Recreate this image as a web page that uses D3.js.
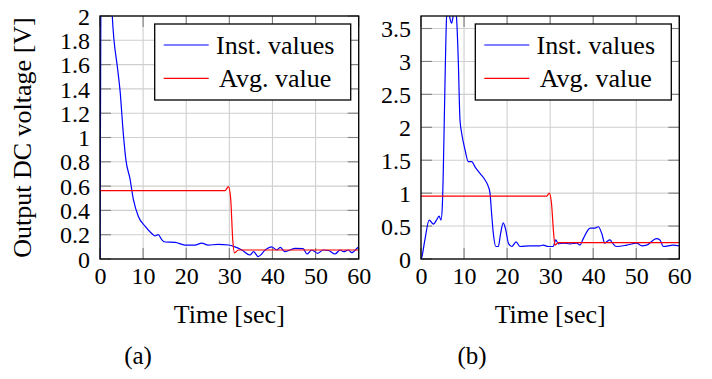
<!DOCTYPE html>
<html>
<head>
<meta charset="utf-8">
<script src="https://cdn.jsdelivr.net/npm/d3@7/dist/d3.min.js"></script>
<style>
  html, body { margin: 0; padding: 0; background: #fff; }
  svg { display: block; }
  svg text { font-family: "Liberation Serif", "Times New Roman", serif !important; fill: #000; }
</style>
</head>
<body>
<svg id="chart" width="712" height="379"></svg>
<script>
// ---------------- data ----------------
const xTicks = [0, 10, 20, 30, 40, 50, 60];
const yTicksA = [0, 0.2, 0.4, 0.6, 0.8, 1, 1.2, 1.4, 1.6, 1.8, 2];
const yTicksB = [0, 0.5, 1, 1.5, 2, 2.5, 3, 3.5];
const legendLabels = ["Inst. values", "Avg. value"];
const xLabel = "Time [sec]";
const yLabel = "Output DC voltage [V]";
const captions = ["(a)", "(b)"];

// (a) instantaneous values [time, volts]
const instA = [[0,0],[0.25,2.6],[0.8,3.6],[1.8,3.2],[2.85,2.0],[4.1,1.56],[4.64,1.39],[5.41,1.03],
  [6.03,0.81],[6.96,0.66],[7.74,0.49],[8.9,0.35],[10.44,0.27],[12.0,0.21],[12.76,0.19],[13.5,0.2],
  [14.3,0.16],[15.1,0.14],[17.4,0.137],[19.7,0.115],[22.0,0.115],[23.6,0.13],[25.1,0.115],[27.4,0.12],
  [29.8,0.115],[31.3,0.1],[32.9,0.074],[34.8,0.033],[35.6,0.06],[36.7,0.02],[38.3,0.074],[39.8,0.1],
  [41.0,0.074],[41.8,0.096],[42.9,0.06],[45.2,0.088],[47.1,0.085],[48.0,0.041],[49.1,0.074],[50.5,0.047],
  [51.8,0.074],[53.0,0.07],[54.5,0.041],[55.7,0.074],[56.5,0.06],[57.6,0.074],[58.4,0.052],[59.6,0.088],[60,0.1]];
// (a) average value
const avgA = [[0,0.563],[29.0,0.563],[29.8,0.595],[30.3,0.5],[30.8,0.15],[31.2,0.05],[32.1,0.074],[60,0.074]];

// (b) instantaneous values
const instB = [[0,0],[0.15,0.02],[0.9,0.29],[1.9,0.59],[2.9,0.53],[3.6,0.59],[4.2,0.65],[4.65,0.59],
  [4.95,0.8],[5.2,1.4],[5.57,2.67],[5.96,3.69],[6.3,3.82],[6.7,3.66],[7.1,3.58],[7.5,3.7],[7.9,3.82],
  [8.1,3.76],[8.29,3.63],[8.66,3.02],[9.06,2.11],[9.45,1.91],[10.22,1.66],[10.99,1.48],[11.78,1.48],
  [12.54,1.40],[13.7,1.30],[14.87,1.20],[15.64,1.10],[16.03,1.0],[16.4,0.69],[16.8,0.39],[17.4,0.19],
  [17.96,0.19],[18.5,0.39],[19.1,0.55],[19.7,0.44],[20.3,0.24],[21.1,0.19],[22.1,0.26],[23.0,0.19],
  [25.3,0.2],[27.6,0.2],[28.4,0.21],[29.6,0.19],[30.7,0.19],[31.3,0.29],[31.9,0.23],[33.1,0.24],
  [34.6,0.23],[36.2,0.24],[36.9,0.21],[37.7,0.31],[39.3,0.47],[40.4,0.47],[41.2,0.49],[41.97,0.39],
  [42.7,0.24],[43.1,0.26],[43.9,0.29],[44.5,0.24],[45.4,0.19],[47.8,0.21],[50.1,0.24],[51.3,0.2],
  [52.4,0.21],[54.7,0.31],[55.5,0.29],[56.3,0.19],[58.6,0.21],[60,0.2]];
// (b) average value
const avgB = [[0,0.955],[29.2,0.955],[29.8,1.0],[30.3,0.85],[30.8,0.4],[31.1,0.21],[31.9,0.25],[60,0.25]];

// ---------------- drawing ----------------
const svg = d3.select("#chart");
const FONT = 26;
const TICKFONT = 24;
const SERIF = '"Liberation Serif", "Times New Roman", serif';

function panel(id, left, right, yMax, yTicks, inst, avg, showYLabel) {
  const top = 16, bottom = 259;
  const x = d3.scaleLinear().domain([0, 60]).range([left, right]);
  const y = d3.scaleLinear().domain([0, yMax]).range([bottom, top]);
  const g = svg.append("g");

  g.append("clipPath").attr("id", "clip" + id)
    .append("rect").attr("x", left).attr("y", top).attr("width", right - left).attr("height", bottom - top);

  // grid
  g.append("g").selectAll("line").data(xTicks).join("line")
    .attr("x1", d => x(d)).attr("x2", d => x(d)).attr("y1", top).attr("y2", bottom)
    .attr("stroke", "#cfcfcf").attr("stroke-width", 1.1);
  g.append("g").selectAll("line").data(yTicks).join("line")
    .attr("x1", left).attr("x2", right).attr("y1", d => y(d)).attr("y2", d => y(d))
    .attr("stroke", "#cfcfcf").attr("stroke-width", 1.1);

  // inner tick marks (all four sides)
  const TL = 11;
  const tk = g.append("g").attr("stroke", "#7f7f7f").attr("stroke-width", 1.1);
  tk.append("g").selectAll("line").data(xTicks).join("line")
    .attr("x1", d => x(d)).attr("x2", d => x(d)).attr("y1", bottom).attr("y2", bottom - TL);
  tk.append("g").selectAll("line").data(xTicks).join("line")
    .attr("x1", d => x(d)).attr("x2", d => x(d)).attr("y1", top).attr("y2", top + TL);
  tk.append("g").selectAll("line").data(yTicks).join("line")
    .attr("x1", left).attr("x2", left + TL).attr("y1", d => y(d)).attr("y2", d => y(d));
  tk.append("g").selectAll("line").data(yTicks).join("line")
    .attr("x1", right).attr("x2", right - TL).attr("y1", d => y(d)).attr("y2", d => y(d));

  // tick labels via d3 axes
  const xAxis = d3.axisBottom(x).tickValues(xTicks).tickSize(0).tickPadding(0).tickFormat(d3.format("d"));
  const yAxis = d3.axisLeft(y).tickValues(yTicks).tickSize(0).tickPadding(0).tickFormat(d => String(+d.toFixed(2)));
  const xa = g.append("g").attr("transform", `translate(0,${bottom})`).call(xAxis)
    .attr("font-family", SERIF).attr("font-size", TICKFONT);
  xa.select(".domain").remove();
  xa.selectAll("text").style("font-family", SERIF).style("font-size", TICKFONT + "px")
    .attr("y", 25).attr("dy", 0).attr("fill", "#000");
  const ya = g.append("g").attr("transform", `translate(${left - 10},0)`).call(yAxis)
    .attr("font-family", SERIF).attr("font-size", TICKFONT);
  ya.select(".domain").remove();
  ya.selectAll("text").style("font-family", SERIF).style("font-size", TICKFONT + "px")
    .attr("x", 0).attr("dy", "0.34em").attr("fill", "#000");

  // data lines
  const line = d3.line().x(d => x(d[0])).y(d => y(d[1])).curve(d3.curveMonotoneX);
  const dg = g.append("g").attr("clip-path", `url(#clip${id})`);
  dg.append("path").datum(inst).attr("d", line).attr("fill", "none")
    .attr("stroke", "#0000ff").attr("stroke-width", 1.2);
  dg.append("path").datum(avg).attr("d", line).attr("fill", "none")
    .attr("stroke", "#ff0000").attr("stroke-width", 1.2);

  // frame
  g.append("rect").attr("x", left).attr("y", top).attr("width", right - left).attr("height", bottom - top)
    .attr("fill", "none").attr("stroke", "#000").attr("stroke-width", 1.3);

  // legend
  const lw = 196, lh = 76;
  const lx = right - 8 - lw, ly = top + 8;
  const lg = g.append("g");
  lg.append("rect").attr("x", lx).attr("y", ly).attr("width", lw).attr("height", lh)
    .attr("fill", "#fff").attr("stroke", "#000").attr("stroke-width", 1.3);
  const colors = ["#0000ff", "#ff0000"];
  legendLabels.forEach((lab, i) => {
    const cy = ly + 21 + i * 33.3;
    lg.append("line").attr("x1", lx + 9).attr("x2", lx + 54).attr("y1", cy).attr("y2", cy)
      .attr("stroke", colors[i]).attr("stroke-width", 1.2);
    lg.append("text").attr("x", lx + 120.5).attr("y", cy + 8.5).attr("text-anchor", "middle")
      .style("font-size", FONT + "px").text(lab);
  });

  // x label
  g.append("text").attr("x", (left + right) / 2).attr("y", 323).attr("text-anchor", "middle")
    .style("font-size", FONT + "px").text(xLabel);
  if (showYLabel) {
    g.append("text").attr("transform", `translate(30.5,${(top + bottom) / 2}) rotate(-90)`)
      .attr("text-anchor", "middle").style("font-size", FONT + "px").text(yLabel);
  }
  return g;
}

panel("a", 100, 358.7, 2, yTicksA, instA, avgA, true);
panel("b", 421, 679.3, 3.69, yTicksB, instB, avgB, false);

// captions
svg.append("text").attr("x", 138).attr("y", 364).attr("text-anchor", "middle")
  .style("font-size", "25px").text(captions[0]);
svg.append("text").attr("x", 472).attr("y", 364).attr("text-anchor", "middle")
  .style("font-size", "25px").text(captions[1]);
</script>
</body>
</html>
